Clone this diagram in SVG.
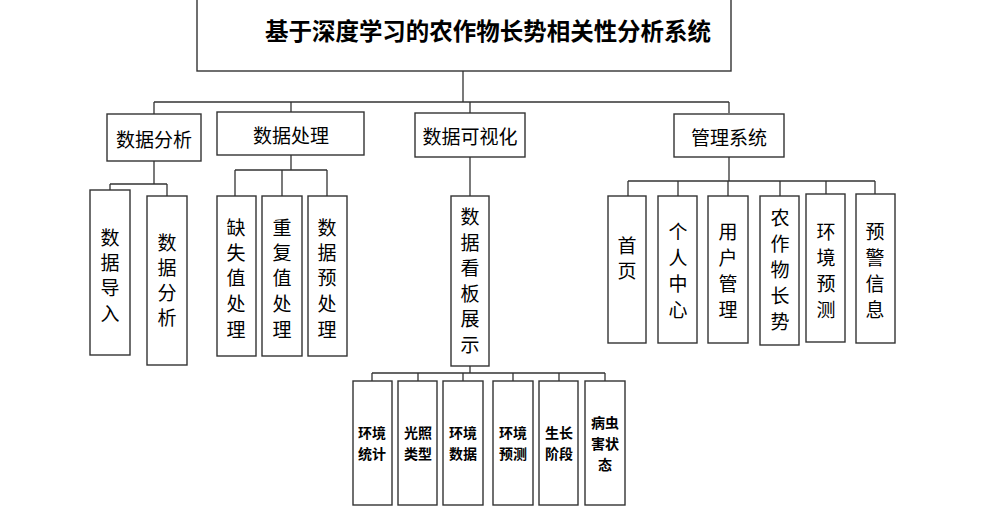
<svg xmlns="http://www.w3.org/2000/svg" width="1005" height="511" viewBox="0 0 1005 511">
<style>
.box{fill:#fff;stroke:#333;stroke-width:1.4}
.ln{fill:none;stroke:#333;stroke-width:1.3}
text{font-family:"Noto Sans CJK SC","Liberation Sans",sans-serif;fill:#000}
.t1{font-size:19px;text-anchor:middle;dominant-baseline:central}
.tv{font-size:19px;text-anchor:middle}
.ts{font-size:14px;font-weight:bold;text-anchor:middle}
.title{font-size:24px;font-weight:bold}
</style>
<rect width="1005" height="511" fill="#fff"/>
<g id="connectors">
<path class="ln" d="M463,71V102M154,102H729M154,102V114M291,102V112M470,102V113M729,102V113"/>
<path class="ln" d="M154,161V184M110,184H167M110,184V190M167,184V196"/>
<path class="ln" d="M291,155V170M235,170H327M235,170V196M282,170V196M327,170V196"/>
<path class="ln" d="M470,157V196"/>
<path class="ln" d="M729,157V181M628,181H875M628,181V196M678,181V196M728,181V196M780,181V196M826,181V194M875,181V194"/>
<path class="ln" d="M470,366V373M372,373H605M372,373V381M418,373V381M463,373V381M513,373V381M559,373V381M605,373V381"/>
</g>
<g id="title"><rect class="box" x="197" y="-2" width="534" height="73"/><text class="title" x="265" y="40" textLength="446" lengthAdjust="spacingAndGlyphs">基于深度学习的农作物长势相关性分析系统</text></g>
<g id="n-analysis"><rect class="box" x="107" y="114" width="94" height="47"/><text class="t1" x="154" y="138">数据分析</text></g>
<g id="n-process"><rect class="box" x="217" y="112" width="147" height="43"/><text class="t1" x="291" y="134">数据处理</text></g>
<g id="n-vis"><rect class="box" x="415" y="113" width="110" height="44"/><text class="t1" x="470" y="135">数据可视化</text></g>
<g id="n-manage"><rect class="box" x="674" y="114" width="110" height="43"/><text class="t1" x="729" y="136">管理系统</text></g>

<g id="n-import"><rect class="box" x="90" y="190" width="40" height="165"/><text class="tv" x="110" y="245"><tspan x="110">数</tspan><tspan x="110" dy="25">据</tspan><tspan x="110" dy="25">导</tspan><tspan x="110" dy="26">入</tspan></text></g>
<g id="n-analysis2"><rect class="box" x="147" y="196" width="40" height="169"/><text class="tv" x="167" y="250"><tspan x="167">数</tspan><tspan x="167" dy="25">据</tspan><tspan x="167" dy="25">分</tspan><tspan x="167" dy="25">析</tspan></text></g>

<g id="n-missing"><rect class="box" x="217" y="196" width="39" height="160"/><text class="tv" x="236" y="235"><tspan x="236">缺</tspan><tspan x="236" dy="25">失</tspan><tspan x="236" dy="25">值</tspan><tspan x="236" dy="26">处</tspan><tspan x="236" dy="26">理</tspan></text></g>
<g id="n-dup"><rect class="box" x="262" y="196" width="40" height="160"/><text class="tv" x="282" y="235"><tspan x="282">重</tspan><tspan x="282" dy="25">复</tspan><tspan x="282" dy="25">值</tspan><tspan x="282" dy="26">处</tspan><tspan x="282" dy="26">理</tspan></text></g>
<g id="n-pre"><rect class="box" x="308" y="196" width="39" height="160"/><text class="tv" x="327" y="235"><tspan x="327">数</tspan><tspan x="327" dy="25">据</tspan><tspan x="327" dy="25">预</tspan><tspan x="327" dy="26">处</tspan><tspan x="327" dy="26">理</tspan></text></g>

<g id="n-board"><rect class="box" x="451" y="196" width="38" height="170"/><text class="tv" x="470" y="224"><tspan x="470">数</tspan><tspan x="470" dy="25.5">据</tspan><tspan x="470" dy="25.5">看</tspan><tspan x="470" dy="25.5">板</tspan><tspan x="470" dy="25.5">展</tspan><tspan x="470" dy="25.5">示</tspan></text></g>

<g id="n-home"><rect class="box" x="608" y="196" width="38" height="147"/><text class="tv" x="627" y="253"><tspan x="627">首</tspan><tspan x="627" dy="25">页</tspan></text></g>
<g id="n-personal"><rect class="box" x="658" y="196" width="39" height="147"/><text class="tv" x="678" y="239"><tspan x="678">个</tspan><tspan x="678" dy="26">人</tspan><tspan x="678" dy="26">中</tspan><tspan x="678" dy="26">心</tspan></text></g>
<g id="n-user"><rect class="box" x="708" y="196" width="40" height="147"/><text class="tv" x="728" y="239"><tspan x="728">用</tspan><tspan x="728" dy="26">户</tspan><tspan x="728" dy="26">管</tspan><tspan x="728" dy="26">理</tspan></text></g>
<g id="n-crop"><rect class="box" x="760" y="196" width="39" height="149"/><text class="tv" x="780" y="225"><tspan x="780">农</tspan><tspan x="780" dy="26">作</tspan><tspan x="780" dy="26">物</tspan><tspan x="780" dy="26">长</tspan><tspan x="780" dy="26">势</tspan></text></g>
<g id="n-envpred"><rect class="box" x="806" y="194" width="39" height="148"/><text class="tv" x="826" y="239"><tspan x="826">环</tspan><tspan x="826" dy="26">境</tspan><tspan x="826" dy="26">预</tspan><tspan x="826" dy="26">测</tspan></text></g>
<g id="n-warn"><rect class="box" x="856" y="194" width="39" height="149"/><text class="tv" x="875" y="239"><tspan x="875">预</tspan><tspan x="875" dy="26">警</tspan><tspan x="875" dy="26">信</tspan><tspan x="875" dy="26">息</tspan></text></g>

<g id="n-envstat"><rect class="box" x="353" y="381" width="39" height="124"/><text class="ts" x="372" y="438"><tspan x="372">环境</tspan><tspan x="372" dy="21">统计</tspan></text></g>
<g id="n-light"><rect class="box" x="398" y="381" width="39" height="124"/><text class="ts" x="418" y="438"><tspan x="418">光照</tspan><tspan x="418" dy="21">类型</tspan></text></g>
<g id="n-envdata"><rect class="box" x="443" y="381" width="40" height="124"/><text class="ts" x="463" y="438"><tspan x="463">环境</tspan><tspan x="463" dy="21">数据</tspan></text></g>
<g id="n-envforecast"><rect class="box" x="493" y="381" width="40" height="124"/><text class="ts" x="513" y="438"><tspan x="513">环境</tspan><tspan x="513" dy="21">预测</tspan></text></g>
<g id="n-stage"><rect class="box" x="539" y="381" width="39" height="124"/><text class="ts" x="559" y="438"><tspan x="559">生长</tspan><tspan x="559" dy="21">阶段</tspan></text></g>
<g id="n-pest"><rect class="box" x="585" y="381" width="40" height="124"/><text class="ts" x="605" y="428"><tspan x="605">病虫</tspan><tspan x="605" dy="21">害状</tspan><tspan x="605" dy="21">态</tspan></text></g>
</svg>
